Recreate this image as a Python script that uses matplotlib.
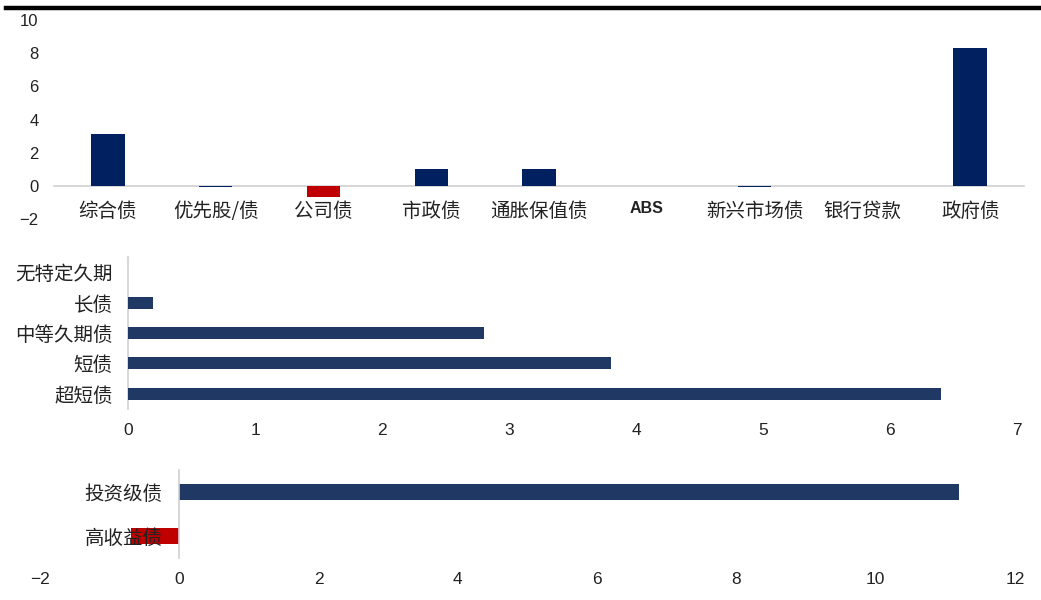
import matplotlib
matplotlib.use("Agg")
import matplotlib.pyplot as plt
from matplotlib.lines import Line2D

plt.rcParams['font.family'] = ['Noto Sans CJK SC', 'DejaVu Sans']

# ---- data ----
top_categories = ['综合债', '优先股/债', '公司债', '市政债', '通胀保值债', 'ABS', '新兴市场债', '银行贷款', '政府债']
top_values = [3.1, -0.1, -0.7, 1.0, 1.0, 0.0, -0.1, 0.0, 8.3]
top_yticks = [-2, 0, 2, 4, 6, 8, 10]

mid_categories = ['超短债', '短债', '中等久期债', '长债', '无特定久期']
mid_values = [6.4, 3.8, 2.8, 0.2, 0.0]
mid_xticks = [0, 1, 2, 3, 4, 5, 6, 7]

bot_categories = ['高收益债', '投资级债']
bot_values = [-0.7, 11.2]
bot_xticks = [-2, 0, 2, 4, 6, 8, 10, 12]

NAVY_TOP = '#002060'
NAVY = '#1F3864'
RED = '#C00000'
AXIS_GRAY = '#D0D0D0'
TXT = '#222222'
NUMFONT = ['Liberation Sans', 'DejaVu Sans']

fig = plt.figure(figsize=(10.41, 6.00), dpi=100)

# top black rule
fig.add_artist(Line2D([0.006, 1.0], [1 - 8 / 600, 1 - 8 / 600], color='black', lw=3.2,
                      transform=fig.transFigure))

# ---- top chart ----
ax1 = fig.add_axes([54 / 1041, 1 - 219 / 600, 970 / 1041, 199 / 600])
for s in ['top', 'right', 'left']:
    ax1.spines[s].set_visible(False)
ax1.spines['bottom'].set_position(('data', 0))
ax1.spines['bottom'].set_color(AXIS_GRAY)
ax1.spines['bottom'].set_linewidth(1.2)
ax1.spines['bottom'].set_zorder(1)
x = list(range(len(top_categories)))
cols = [RED if v < -0.3 else NAVY_TOP for v in top_values]
ax1.bar(x, top_values, width=0.31, color=cols, zorder=3)
ax1.set_xlim(-0.5, len(top_categories) - 0.5)
ax1.set_ylim(-2, 10)
ax1.set_yticks(top_yticks)
ax1.set_yticklabels([str(t).replace('-', '−') for t in top_yticks], fontsize=12, color=TXT,
                    family=NUMFONT)
ax1.tick_params(axis='y', length=0, pad=11)
ax1.set_xticks(x)
ax1.set_xticklabels(top_categories, fontsize=14, color=TXT)
ax1.tick_params(axis='x', length=0, pad=11)
for lbl in ax1.get_xticklabels():
    if lbl.get_text() == 'ABS':
        lbl.set_fontsize(11.5)
        lbl.set_family(['Liberation Sans Narrow', 'Liberation Sans', 'DejaVu Sans'])
        lbl.set_fontweight('bold')
ax1.patch.set_alpha(0)

# ---- middle chart ----
ax2 = fig.add_axes([128 / 1041, 1 - 409 / 600, 889 / 1041, 152 / 600])
for s in ['top', 'right', 'bottom']:
    ax2.spines[s].set_visible(False)
ax2.spines['left'].set_color(AXIS_GRAY)
ax2.spines['left'].set_linewidth(1.2)
y = list(range(len(mid_categories)))
ax2.barh(y, mid_values, height=0.4, color=NAVY, zorder=3)
ax2.set_xlim(0, 7)
ax2.set_ylim(-0.5, len(mid_categories) - 0.5)
ax2.set_yticks(y)
ax2.set_yticklabels(mid_categories, fontsize=14, color=TXT)
ax2.set_xticks(mid_xticks)
ax2.set_xticklabels([str(t) for t in mid_xticks], fontsize=12.5, color=TXT, family=NUMFONT)
ax2.tick_params(axis='y', length=0, pad=11)
ax2.tick_params(axis='x', length=0, pad=10)
ax2.patch.set_alpha(0)

# ---- bottom chart ----
ax3 = fig.add_axes([40 / 1041, 1 - 558 / 600, 975 / 1041, 88 / 600])
for s in ['top', 'right', 'bottom']:
    ax3.spines[s].set_visible(False)
ax3.spines['left'].set_position(('data', 0))
ax3.spines['left'].set_color(AXIS_GRAY)
ax3.spines['left'].set_linewidth(1.2)
y3 = list(range(len(bot_categories)))
cols3 = [RED if v < 0 else NAVY for v in bot_values]
ax3.barh(y3, bot_values, height=0.36, color=cols3, zorder=1)
ax3.set_xlim(-2, 12)
ax3.set_ylim(-0.5, len(bot_categories) - 0.5)
ax3.set_yticks(y3)
ax3.set_yticklabels(bot_categories, fontsize=14, color=TXT)
ax3.set_xticks(bot_xticks)
ax3.set_xticklabels([str(t).replace('-', '−') for t in bot_xticks], fontsize=12.5, color=TXT,
                    family=NUMFONT)
ax3.tick_params(axis='y', length=0, pad=12)
ax3.tick_params(axis='x', length=0, pad=10)
ax3.patch.set_alpha(0)

fig.savefig('out.png', dpi=100)
